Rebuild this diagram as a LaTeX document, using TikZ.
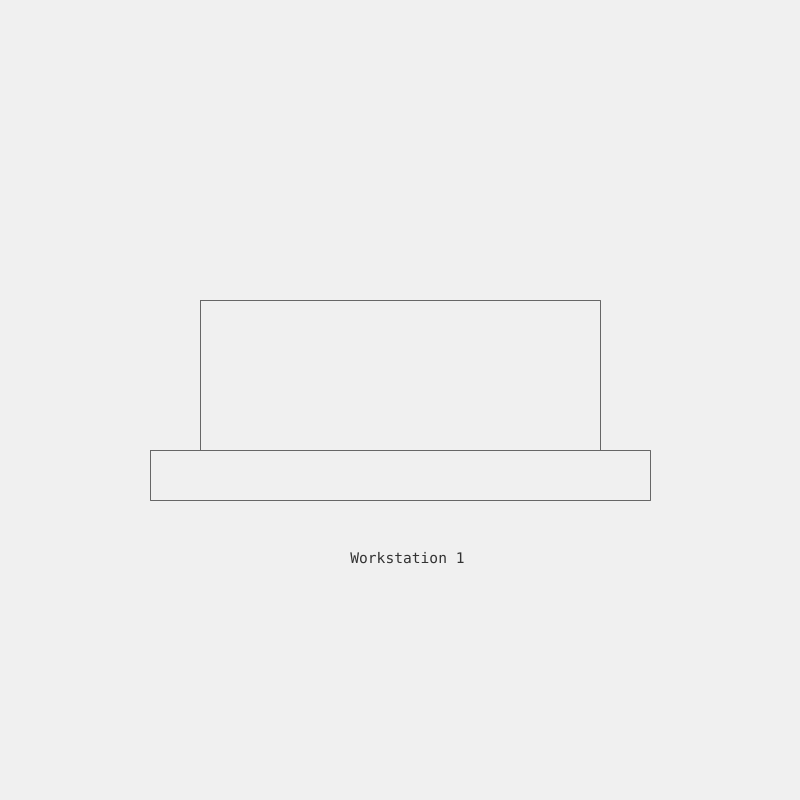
\documentclass[tikz,border=0pt]{standalone}
\usepackage{fontspec}
\newfontfamily\monofont{DejaVu Sans Mono}
\definecolor{bgcol}{HTML}{F0F0F0}
\definecolor{linecol}{HTML}{666666}
\definecolor{textcol}{HTML}{333333}
\begin{document}
\begin{tikzpicture}[x=1pt, y=-1pt, line join = round, line cap = round,
    part/.style={draw=linecol, line width=1pt, inner sep=0pt, outer sep=0pt}]
    \fill[bgcol] (0,0) rectangle (800,800);
    \useasboundingbox (0,0) rectangle (800,800);

    \coordinate (S1) at (200,300);
    \coordinate (S2) at (600,450);
    \coordinate (B1) at (150,450);
    \coordinate (B2) at (650,500);

    % monitor and base
    \draw[part] (S1) rectangle (S2);
    \draw[part] (B1) rectangle (B2);

    \node[text=textcol, font=\monofont\fontsize{14.6}{16}\selectfont] (label) at (407.5,558) {Workstation 1};
\end{tikzpicture}
\end{document}
